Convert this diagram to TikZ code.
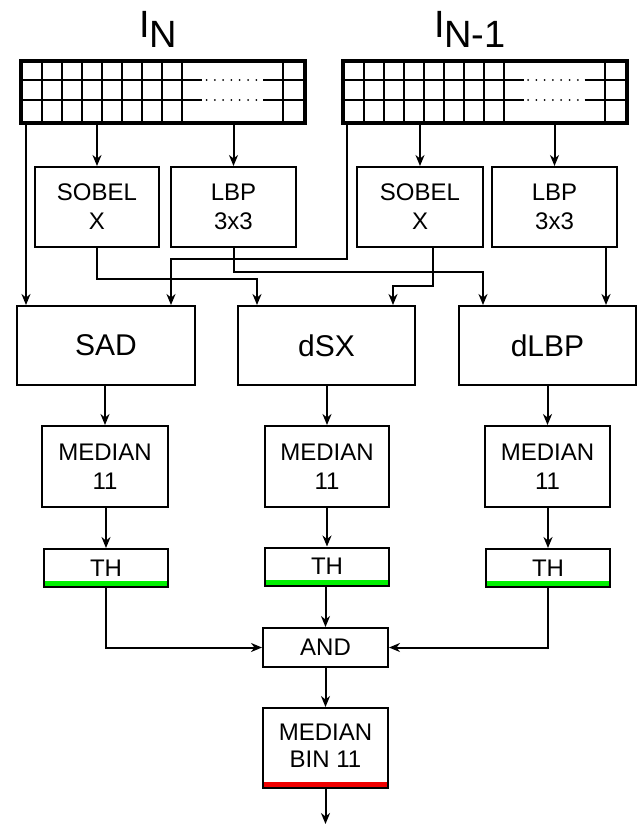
\documentclass[tikz,border=0pt]{standalone}
\usepackage{fontspec}
\setmainfont{Liberation Sans}
\usetikzlibrary{arrows.meta,calc}
\definecolor{thgreen}{RGB}{0,240,0}
\definecolor{binred}{RGB}{240,0,0}
\newcommand\mygrid[1]{%
  \begin{scope}[shift={(#1.north west)}]
    \foreach \x in {23,43,63,83,103,123,143,163,264} \draw[gline] (\x,0) -- (\x,62);
    \foreach \y in {21,41} {
      \draw[gline] (0,\y) -- (183,\y);
      \draw[gline] (244,\y) -- (284,\y);
      \foreach \k in {0,...,6} \fill (187.5+\k*8.3,\y) circle (1pt);
    }
  \end{scope}}
\begin{document}
\begin{tikzpicture}[x=1pt,y=-1pt,
  box/.style={draw, line width=2pt, inner sep=0pt, align=center, font=\fontsize{24}{29}\selectfont},
  bigbox/.style={box, font=\fontsize{30}{34}\selectfont},
  gridbox/.style={draw, line width=4pt, inner sep=0pt, minimum width=284pt, minimum height=62pt},
  gline/.style={line width=2pt},
  arr/.style={line width=2pt, -{Stealth[length=11pt,width=9pt,inset=3.5pt]}},
  greenbar/.style={path picture={\fill[thgreen] (path picture bounding box.south west) rectangle ([yshift=6pt]path picture bounding box.south east);}},
  redbar/.style={path picture={\fill[binred] (path picture bounding box.south west) rectangle ([yshift=6pt]path picture bounding box.south east);}},
  titletext/.style={inner sep=0pt, anchor=base west, font=\fontsize{38}{38}\selectfont}
]
\useasboundingbox (0,0) rectangle (638,827);

% input frames
\node[gridbox] (gridL) at (163,92) {};
\node[gridbox] (gridR) at (484.5,92) {};
\mygrid{gridL}
\mygrid{gridR}
\node[titletext] (tLi) at (139.5,37) {I};
\node[titletext] (tLn) at (149,47) {N};
\node[titletext] (tRi) at (434.5,37) {I};
\node[titletext] (tRn) at (444,47) {N-1};

% first stage
\node[box, minimum width=124pt, minimum height=80pt] (sobL) at (97,207) {SOBEL\\X};
\node[box, minimum width=125pt, minimum height=80pt] (lbpL) at (233.5,207) {LBP\\3x3};
\node[box, minimum width=126pt, minimum height=80pt] (sobR) at (420,207) {SOBEL\\X};
\node[box, minimum width=125pt, minimum height=80pt] (lbpR) at (554.5,207) {LBP\\3x3};

% difference stage
\node[bigbox, minimum width=178pt, minimum height=79pt] (sad) at (106,345.5) {SAD};
\node[bigbox, minimum width=177pt, minimum height=79pt] (dsx) at (326.5,345.5) {dSX};
\node[bigbox, minimum width=177pt, minimum height=79pt] (dlbp) at (547.5,345.5) {dLBP};

% median
\node[box, minimum width=126pt, minimum height=81pt] (medL) at (105,466.5) {MEDIAN\\11};
\node[box, minimum width=124pt, minimum height=81pt] (medM) at (327,466.5) {MEDIAN\\11};
\node[box, minimum width=125pt, minimum height=81pt] (medR) at (547.5,466.5) {MEDIAN\\11};

% thresholds
\node[box, greenbar, minimum width=124pt, minimum height=38pt] (thL) at (106,568) {TH};
\node[box, greenbar, minimum width=124pt, minimum height=38pt] (thM) at (327,566.5) {TH};
\node[box, greenbar, minimum width=124pt, minimum height=38pt] (thR) at (548,568) {TH};

% and + final
\node[box, minimum width=125pt, minimum height=39pt] (and) at (325.5,647.5) {AND};
\node[box, redbar, minimum width=125pt, minimum height=80pt] (mbin) at (325.5,748) {\raisebox{2pt}{\begin{tabular}{@{}c@{}}MEDIAN\\[-2.5pt]BIN 11\end{tabular}}};
\coordinate (out) at (325.5,824);

% connectors: frames to filters
\draw[arr] (sobL.north |- gridL.south) -- (sobL.north);
\draw[arr] (lbpL.north |- gridL.south) -- (lbpL.north);
\draw[arr] (sobR.north |- gridR.south) -- (sobR.north);
\draw[arr] (lbpR.north |- gridR.south) -- (lbpR.north);

% frames to SAD
\draw[arr] ([xshift=7pt]gridL.south west) -- ([xshift=7pt]gridL.south west |- sad.north);
\draw[arr] ([xshift=6pt]gridR.south west) |- ([xshift=155pt,yshift=46pt]sad.north west) -- ([xshift=155pt]sad.north west);

% filters to differences
\draw[arr] (sobL.south) |- ([xshift=20pt,yshift=26pt]dsx.north west) -- ([xshift=20pt]dsx.north west);
\draw[arr] (lbpL.south) |- ([xshift=25pt,yshift=33pt]dlbp.north west) -- ([xshift=25pt]dlbp.north west);
\draw[arr] ([xshift=13pt]sobR.south) |- ([xshift=156pt,yshift=19pt]dsx.north west) -- ([xshift=156pt]dsx.north west);
\draw[arr] ([xshift=-12pt]lbpR.south east) -- ([xshift=-12pt]lbpR.south east |- dlbp.north);

% differences to medians to thresholds
\draw[arr] (medL.north |- sad.south) -- (medL.north);
\draw[arr] (medM.north |- dsx.south) -- (medM.north);
\draw[arr] (medR.north |- dlbp.south) -- (medR.north);
\draw[arr] (thL.north |- medL.south) -- (thL.north);
\draw[arr] (thM.north |- medM.south) -- (thM.north);
\draw[arr] (thR.north |- medR.south) -- (thR.north);

% thresholds to AND
\draw[arr] (thL.south) |- (and.west);
\draw[arr] (thR.south) |- (and.east);
\draw[arr] (and.north |- thM.south) -- (and.north);

% AND to final
\draw[arr] (and.south) -- (mbin.north);
\draw[arr] (mbin.south) -- (out);
\end{tikzpicture}
\end{document}
